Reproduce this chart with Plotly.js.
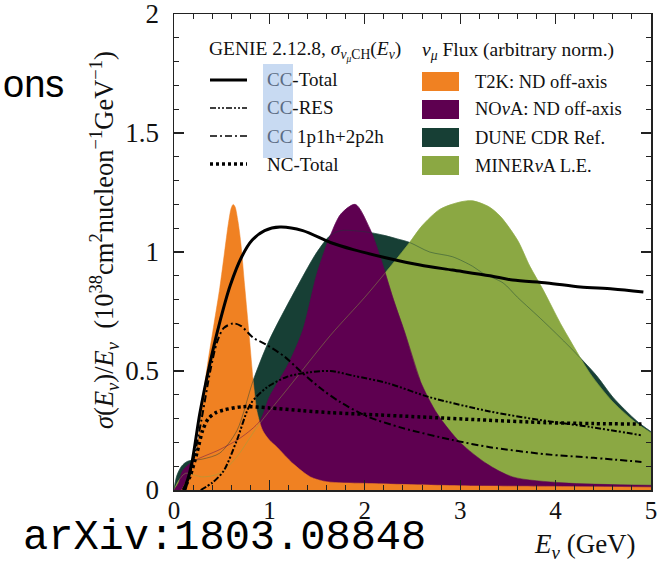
<!DOCTYPE html>
<html><head><meta charset="utf-8">
<script src="https://cdn.plot.ly/plotly-3.0.1.min.js"></script>
<style>html,body{margin:0;padding:0;background:#fff;}#chart{width:658px;height:564px;}</style>
</head><body><div id="chart"></div>
<script>
// ---- Flux shapes (arbitrary normalisation) ----
const t2kE = [0.08,0.12,0.18,0.24,0.30,0.36,0.42,0.48,0.53,0.57,0.60,0.62,0.64,0.67,0.70,0.74,0.79,0.83,0.87,0.93,1.0,1.08,1.25,1.43,1.6,2.0,3.0,4.0,5.0];
const t2kFlux = [0,0.03,0.08,0.18,0.38,0.55,0.70,0.85,1.0,1.12,1.185,1.2,1.19,1.13,1.04,0.86,0.64,0.46,0.33,0.25,0.21,0.18,0.11,0.055,0.035,0.028,0.018,0.015,0.012];

const novaE = [0,0.05,0.09,0.2,0.48,0.7,0.9,1.0,1.1,1.2,1.35,1.5,1.64,1.75,1.9,2.05,2.16,2.3,2.42,2.58,2.76,3.0,3.28,3.55,4.08,5.0];
const novaFlux = [0,0.03,0.08,0.12,0.17,0.22,0.29,0.39,0.46,0.53,0.67,0.91,1.07,1.16,1.2,1.10,0.98,0.80,0.66,0.46,0.32,0.2,0.11,0.055,0.03,0.02];

const duneE = [0,0.03,0.08,0.14,0.3,0.48,0.66,0.83,1.0,1.3,1.5,1.64,1.75,2.0,2.2,2.34,2.47,2.68,2.92,3.13,3.24,3.45,3.6,3.87,4.15,4.43,4.6,4.85,5.0];
const duneFlux = [0,0.06,0.10,0.12,0.13,0.155,0.25,0.46,0.63,0.86,1.0,1.07,1.09,1.085,1.07,1.055,1.04,1.0,0.98,0.94,0.91,0.87,0.81,0.71,0.60,0.48,0.39,0.29,0.245];

const minervaE = [0,0.05,0.12,0.3,0.48,0.66,0.88,1.2,1.64,2.0,2.23,2.47,2.6,2.79,3.0,3.13,3.3,3.42,3.6,3.73,3.87,4.05,4.15,4.36,4.6,4.85,5.0];
const minervaFlux = [0,0.04,0.07,0.055,0.07,0.14,0.27,0.43,0.65,0.81,0.92,1.04,1.11,1.18,1.21,1.215,1.19,1.15,1.05,0.94,0.84,0.70,0.63,0.49,0.37,0.28,0.24];

// ---- GENIE 2.12.8 cross sections sigma/E (1e-38 cm^2 / nucleon / GeV) ----
const ccTotE = [0.10,0.14,0.19,0.27,0.37,0.47,0.59,0.71,0.82,0.95,1.11,1.35,1.64,1.88,2.23,2.58,2.92,3.31,3.55,3.91,4.26,4.6,4.92];
const ccTot = [0,0.04,0.12,0.32,0.52,0.69,0.86,0.98,1.05,1.09,1.105,1.09,1.04,1.01,0.975,0.945,0.924,0.90,0.882,0.87,0.853,0.845,0.832];

const ccResE = [0.28,0.4,0.52,0.66,0.8,0.97,1.18,1.43,1.64,1.88,2.23,2.68,3.31,3.84,4.36,4.9];
const ccRes = [0,0.03,0.08,0.21,0.36,0.43,0.475,0.495,0.50,0.48,0.45,0.39,0.33,0.294,0.265,0.23];

const ccQeE = [0.12,0.2,0.29,0.38,0.45,0.52,0.62,0.7,0.83,0.97,1.16,1.35,1.56,1.74,2.02,2.4,2.92,3.31,3.9,4.4,4.9];
const ccQe = [0,0.12,0.3,0.5,0.62,0.68,0.70,0.69,0.64,0.61,0.56,0.49,0.42,0.37,0.31,0.26,0.21,0.18,0.15,0.135,0.118];

const ncTotE = [0.1,0.17,0.24,0.3,0.36,0.44,0.52,0.72,1.0,1.35,1.64,2.0,2.58,3.2,3.9,4.4,4.9];
const ncTot = [0,0.06,0.155,0.25,0.30,0.325,0.336,0.35,0.345,0.333,0.325,0.318,0.307,0.295,0.283,0.279,0.277];

const xTicks = [0,1,2,3,4,5];
const yTicks = [0,0.5,1,1.5,2];

const fluxNames = ['T2K: ND off-axis','NO<i>ν</i>A: ND off-axis','DUNE CDR Ref.','MINER<i>ν</i>A L.E.'];
const xsNames = ['-Total','-RES',' 1p1h+2p2h','NC-Total'];

const C_T2K = '#F08122', C_NOVA = '#5E0050', C_DUNE = '#173F35', C_MIN = '#8BA843';

function fill(x, y, c) {
  return {x: x, y: y, type: 'scatter', mode: 'lines', fill: 'tozeroy', fillcolor: c,
    line: {color: c, width: 0.5, shape: 'spline', smoothing: 0.8}, hoverinfo: 'skip'};
}
function outline(x, y, c) {
  return {x: x, y: y, type: 'scatter', mode: 'lines', opacity: 0.45,
    line: {color: c, width: 1, shape: 'spline', smoothing: 0.8}, hoverinfo: 'skip'};
}
function xs(x, y, w, dash) {
  return {x: x, y: y, type: 'scatter', mode: 'lines',
    line: {color: '#000', width: w, dash: dash, shape: 'spline', smoothing: 0.8}};
}

const data = [
  fill(duneE, duneFlux, C_DUNE),
  fill(minervaE, minervaFlux, C_MIN),
  fill(novaE, novaFlux, C_NOVA),
  fill(t2kE, t2kFlux, C_T2K),
  outline(duneE, duneFlux, C_DUNE),
  outline(minervaE, minervaFlux, C_MIN),
  outline(novaE.slice(0, 20), novaFlux.slice(0, 20), C_NOVA),
  xs(ccQeE, ccQe, 2, '7px,3px,2px,3px'),
  xs(ccResE, ccRes, 2, '6px,2px,2px,2px,2px,2px'),
  xs(ncTotE, ncTot, 3.5, '3px,3px'),
  xs(ccTotE, ccTot, 3, 'solid')
];

// pixel -> paper helpers (plot area: x 174..651, y 14..490)
const L = 174, R = 651, T = 14, B = 490;
const px = v => (v - L) / (R - L);
const py = v => (B - v) / (B - T);

const shapes = [];
const ann = [];
const SERIF = 'Liberation Serif';

// highlight behind "CC"
shapes.push({type: 'rect', xref: 'paper', yref: 'paper', x0: px(263), x1: px(293), y0: py(158), y1: py(64),
  fillcolor: '#C8DAF2', line: {width: 0}, layer: 'above'});

// legend column 1: line samples
const rowsY = [80, 108, 136, 164];
const dashes = ['solid', '6px,2px,2px,2px,2px,2px', '7px,3px,2px,3px', '3px,3px'];
const widths = [3, 1.6, 1.6, 3.5];
rowsY.forEach((yy, i) => {
  shapes.push({type: 'line', xref: 'paper', yref: 'paper', x0: px(210), x1: px(247), y0: py(yy), y1: py(yy),
    line: {color: '#000', width: widths[i], dash: dashes[i]}, layer: 'above'});
  const txt = i < 3 ? '<span style="color:#5b6b82">CC</span>' + xsNames[i] : xsNames[i];
  ann.push({xref: 'paper', yref: 'paper', x: px(265), y: py(yy), xanchor: 'left', yanchor: 'middle',
    text: txt, showarrow: false, font: {family: SERIF, size: 19, color: '#111'}});
});
// legend column 2: colour boxes
const fluxCols = [C_T2K, C_NOVA, C_DUNE, C_MIN];
const boxTop = [72, 100, 128, 156];
boxTop.forEach((yy, i) => {
  shapes.push({type: 'rect', xref: 'paper', yref: 'paper', x0: px(422), x1: px(459), y0: py(yy + 19), y1: py(yy),
    fillcolor: fluxCols[i], line: {width: 0}, layer: 'above'});
  ann.push({xref: 'paper', yref: 'paper', x: px(473), y: py(yy + 9.5), xanchor: 'left', yanchor: 'middle',
    text: fluxNames[i], showarrow: false, font: {family: SERIF, size: 18.5, color: '#111'}});
});
// legend headers
ann.push({xref: 'paper', yref: 'paper', x: px(207), y: py(51), xanchor: 'left', yanchor: 'middle',
  text: 'GENIE 2.12.8, <i>σ</i><sub><i>ν<sub>μ</sub></i>CH</sub>(<i>E</i><sub><i>ν</i></sub>)', showarrow: false,
  font: {family: SERIF, size: 19.5, color: '#111'}});
ann.push({xref: 'paper', yref: 'paper', x: px(420), y: py(51), xanchor: 'left', yanchor: 'middle',
  text: '<i>ν</i><sub><i>μ</i></sub> Flux (arbitrary norm.)', showarrow: false,
  font: {family: SERIF, size: 19.5, color: '#111'}});

// axis titles
ann.push({xref: 'paper', yref: 'paper', x: px(104), y: py(240), xanchor: 'center', yanchor: 'middle', textangle: -90,
  text: '<i>σ</i>(<i>E</i><sub><i>ν</i></sub>)/<i>E</i><sub><i>ν</i></sub>  (10<sup>38</sup>cm<sup>2</sup>nucleon<sup>−1</sup>GeV<sup>−1</sup>)',
  showarrow: false, font: {family: SERIF, size: 26.5, color: '#111'}});
ann.push({xref: 'paper', yref: 'paper', x: px(585), y: py(546), xanchor: 'center', yanchor: 'middle',
  text: '<i>E</i><sub><i>ν</i></sub> (GeV)', showarrow: false, font: {family: SERIF, size: 27, color: '#111'}});

// slide texts
ann.push({xref: 'paper', yref: 'paper', x: px(1), y: py(84), xanchor: 'left', yanchor: 'middle',
  text: 'ons', showarrow: false, font: {family: 'Liberation Sans', size: 38, color: '#000'}});
ann.push({xref: 'paper', yref: 'paper', x: px(21), y: py(564), xanchor: 'left', yanchor: 'bottom',
  text: 'arXiv:1803.08848', showarrow: false, font: {family: 'Liberation Mono', size: 42, color: '#000'}});

const axisCommon = {
  showline: true, linecolor: '#222', linewidth: 1.5, mirror: 'allticks',
  ticks: 'inside', ticklen: 10, tickwidth: 1.2, tickcolor: '#222',
  showgrid: false, zeroline: false, ticklabeloverflow: 'allow',
  fixedrange: true
};

const layout = {
  width: 658, height: 564,
  margin: {l: L, r: 658 - R, t: T, b: 564 - B, pad: 0},
  paper_bgcolor: '#fff', plot_bgcolor: '#fff',
  showlegend: false,
  font: {family: SERIF, color: '#111'},
  xaxis: Object.assign({}, axisCommon, {range: [0, 5], tickmode: 'array', tickvals: xTicks,
    ticktext: xTicks.map(String), ticklabelstandoff: -3,
    tickfont: {family: SERIF, size: 25, color: '#111'},
    minor: {dtick: 0.2, tick0: 0, ticks: 'inside', ticklen: 5, tickwidth: 1, tickcolor: '#222', showgrid: false}}),
  yaxis: Object.assign({}, axisCommon, {range: [0, 2], tickmode: 'array', tickvals: yTicks,
    ticktext: yTicks.map(String), ticklabelstandoff: 8,
    tickfont: {family: SERIF, size: 27, color: '#111'},
    minor: {dtick: 0.1, tick0: 0, ticks: 'inside', ticklen: 5, tickwidth: 1, tickcolor: '#222', showgrid: false}}),
  shapes: shapes,
  annotations: ann
};

Plotly.newPlot('chart', data, layout, {displayModeBar: false, staticPlot: true});
</script>
</body></html>
